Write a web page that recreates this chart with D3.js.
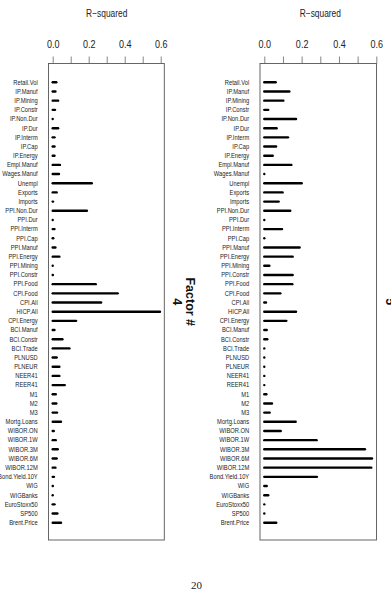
<!DOCTYPE html>
<html>
<head>
<meta charset="utf-8">
<script src="https://cdn.jsdelivr.net/npm/d3@7"></script>
<style>
    body { margin: 0; background: #fff; }
    svg { display: block; }
</style>
</head>
<body>
<svg id="chart" width="391" height="594"></svg>
<script>
// variables on the vertical axis (top to bottom)
const variables = [
    'Retail.Vol', 'IP.Manuf', 'IP.Mining', 'IP.Constr', 'IP.Non.Dur', 'IP.Dur', 'IP.Interm',
    'IP.Cap', 'IP.Energy', 'Empl.Manuf', 'Wages.Manuf', 'Unempl', 'Exports', 'Imports',
    'PPI.Non.Dur', 'PPI.Dur', 'PPI.Interm', 'PPI.Cap', 'PPI.Manuf', 'PPI.Energy', 'PPI.Mining',
    'PPI.Constr', 'PPI.Food', 'CPI.Food', 'CPI.All', 'HICP.All', 'CPI.Energy', 'BCI.Manuf',
    'BCI.Constr', 'BCI.Trade', 'PLNUSD', 'PLNEUR', 'NEER41', 'REER41', 'M1', 'M2', 'M3',
    'Mortg.Loans', 'WIBOR.ON', 'WIBOR.1W', 'WIBOR.3M', 'WIBOR.6M', 'WIBOR.12M',
    'Bond.Yield.10Y', 'WIG', 'WIGBanks', 'EuroStoxx50', 'SP500', 'Brent.Price'
];

// R-squared of each variable on factor 4
const factor4 = [
    0.020, 0.015, 0.030, 0.013, 0.000, 0.030, 0.010,
    0.010, 0.010, 0.040, 0.035, 0.217, 0.022, 0.002,
    0.190, 0.000, 0.010, 0.003, 0.015, 0.037, 0.000,
    0.001, 0.239, 0.361, 0.269, 0.596, 0.130, 0.010,
    0.054, 0.093, 0.022, 0.037, 0.037, 0.067, 0.017, 0.020, 0.024,
    0.046, 0.006, 0.017, 0.028, 0.022, 0.015,
    0.007, 0.001, 0.000, 0.010, 0.026, 0.046
];

// R-squared of each variable on factor 5
const factor5 = [
    0.061, 0.134, 0.102, 0.021, 0.170, 0.066, 0.127,
    0.063, 0.045, 0.145, 0.000, 0.200, 0.098, 0.077,
    0.139, 0.000, 0.095, 0.000, 0.189, 0.152, 0.027,
    0.152, 0.150, 0.086, 0.009, 0.170, 0.118, 0.013,
    0.016, 0.000, 0.000, 0.000, 0.000, 0.000, 0.011, 0.041, 0.029,
    0.168, 0.088, 0.280, 0.539, 0.577, 0.573,
    0.282, 0.013, 0.021, 0.000, 0.000, 0.064
];

const tickValues = [0, 0.1, 0.2, 0.3, 0.4, 0.5, 0.6];
const tickLabels = ['0.0', '', '0.2', '', '0.4', '', '0.6'];

const svg = d3.select('#chart');

const boxTop = 63.5, boxBottom = 540;
const y = d3.scalePoint()
    .domain(variables)
    .range([82.3, 522.7]);

function drawPanel(values, factorName, box, axisRange) {
    const g = svg.append('g');

    const x = d3.scaleLinear()
        .domain([0, 0.6])
        .range(axisRange);

    // frame
    g.append('rect')
        .attr('x', box[0])
        .attr('y', boxTop)
        .attr('width', box[1] - box[0])
        .attr('height', boxBottom - boxTop)
        .attr('fill', 'none')
        .attr('stroke', '#555')
        .attr('stroke-width', 0.9);

    // top axis
    const axis = g.append('g')
        .attr('transform', `translate(0,${boxTop})`)
        .call(d3.axisTop(x)
            .tickValues(tickValues)
            .tickSize(7)
            .tickPadding(9)
            .tickFormat((d, i) => tickLabels[i]));
    axis.select('.domain').remove();
    axis.selectAll('.tick line').attr('stroke', '#666').attr('stroke-width', 0.8);
    axis.selectAll('.tick text')
        .attr('font-family', 'Liberation Sans, Arial, sans-serif')
        .attr('font-size', 11)
        .attr('fill', '#222')
        .attr('y', 0)
        .attr('dy', 0)
        .attr('transform', 'translate(0,-15.5) scale(0.82,1)');

    // title
    g.append('text')
        .attr('transform', `translate(${(axisRange[0] + axisRange[1]) / 2},17.3) scale(0.84,1)`)
        .attr('text-anchor', 'middle')
        .attr('font-family', 'Liberation Sans, Arial, sans-serif')
        .attr('font-size', 10)
        .attr('fill', '#222')
        .text('R\u2212squared');

    // variable labels
    g.selectAll('.lab')
        .data(variables)
        .enter().append('text')
        .attr('class', 'lab')
        .attr('transform', d => `translate(${box[0] - 10.8},${y(d)}) scale(0.89,1)`)
        .attr('dy', '0.36em')
        .attr('text-anchor', 'end')
        .attr('font-family', 'Liberation Sans, Arial, sans-serif')
        .attr('font-size', 6.5)
        .attr('fill', '#222')
        .text(d => d);

    // bars (thick lines from zero)
    g.selectAll('.bar')
        .data(values)
        .enter().append('line')
        .attr('class', 'bar')
        .attr('x1', x(0))
        .attr('x2', d => x(d))
        .attr('y1', (d, i) => y(variables[i]))
        .attr('y2', (d, i) => y(variables[i]))
        .attr('stroke', '#000')
        .attr('stroke-width', 2.4)
        .attr('stroke-linecap', 'round');

    // factor label on the right, rotated
    const fx = box[1] + 26;
    const fl = g.append('text')
        .attr('transform', `translate(${fx},${(boxTop + boxBottom) / 2}) rotate(90)`)
        .attr('text-anchor', 'middle')
        .attr('font-family', 'Liberation Sans, Arial, sans-serif')
        .attr('font-weight', 'bold')
        .attr('font-size', 12.5)
        .attr('fill', '#111');
    fl.append('tspan').attr('x', 0).attr('dy', '0.35em').text(factorName[0]);
    fl.append('tspan').attr('x', 0).attr('dy', '1.0em').text(factorName[1]);
}

drawPanel(factor4, ['Factor #', '4'], [48.5, 164.3], [52.7, 160.7]);
drawPanel(factor5, ['Factor #', '5'], [260, 376.5], [264.3, 376.3]);

// page number
svg.append('text')
    .attr('x', 196.5)
    .attr('y', 589)
    .attr('text-anchor', 'middle')
    .attr('font-family', 'Liberation Serif, DejaVu Serif, serif')
    .attr('font-size', 11)
    .attr('fill', '#222')
    .text('20');
</script>
</body>
</html>
